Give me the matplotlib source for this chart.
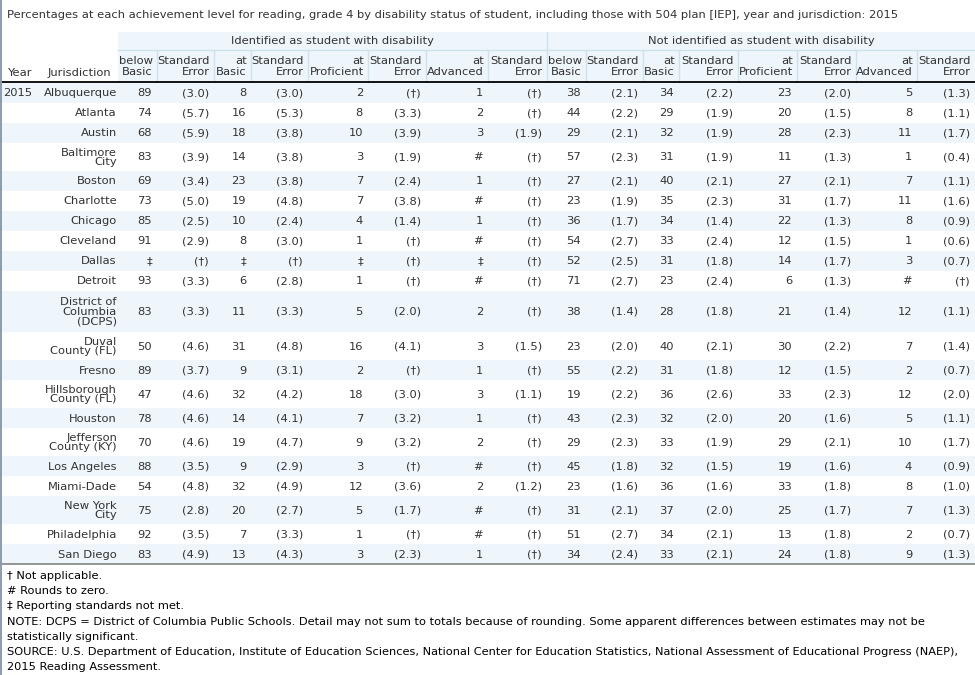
import matplotlib
matplotlib.use("Agg")
import matplotlib.pyplot as plt

plt.rcParams['font.family'] = ['DejaVu Sans']

title = ("Percentages at each achievement level for reading, grade 4 by disability status of student, "
         "including those with 504 plan [IEP], year and jurisdiction: 2015")
group_labels = ["Identified as student with disability", "Not identified as student with disability"]
col_headers = ["below\nBasic", "Standard\nError", "at\nBasic", "Standard\nError",
               "at\nProficient", "Standard\nError", "at\nAdvanced", "Standard\nError"]
year = "2015"
jurisdictions = ["Albuquerque", "Atlanta", "Austin", "Baltimore\nCity", "Boston", "Charlotte",
                 "Chicago", "Cleveland", "Dallas", "Detroit", "District of\nColumbia\n(DCPS)",
                 "Duval\nCounty (FL)", "Fresno", "Hillsborough\nCounty (FL)", "Houston",
                 "Jefferson\nCounty (KY)", "Los Angeles", "Miami-Dade", "New York\nCity",
                 "Philadelphia", "San Diego"]

# Identified as student with disability
below_basic_d = [89, 74, 68, 83, 69, 73, 85, 91, '‡', 93, 83, 50, 89, 47, 78, 70, 88, 54, 75, 92, 83]
se_below_d = [3.0, 5.7, 5.9, 3.9, 3.4, 5.0, 2.5, 2.9, '†', 3.3, 3.3, 4.6, 3.7, 4.6, 4.6, 4.6, 3.5, 4.8, 2.8, 3.5, 4.9]
at_basic_d = [8, 16, 18, 14, 23, 19, 10, 8, '‡', 6, 11, 31, 9, 32, 14, 19, 9, 32, 20, 7, 13]
se_basic_d = [3.0, 5.3, 3.8, 3.8, 3.8, 4.8, 2.4, 3.0, '†', 2.8, 3.3, 4.8, 3.1, 4.2, 4.1, 4.7, 2.9, 4.9, 2.7, 3.3, 4.3]
at_prof_d = [2, 8, 10, 3, 7, 7, 4, 1, '‡', 1, 5, 16, 2, 18, 7, 9, 3, 12, 5, 1, 3]
se_prof_d = ['†', 3.3, 3.9, 1.9, 2.4, 3.8, 1.4, '†', '†', '†', 2.0, 4.1, '†', 3.0, 3.2, 3.2, '†', 3.6, 1.7, '†', 2.3]
at_adv_d = [1, 2, 3, '#', 1, '#', 1, '#', '‡', '#', 2, 3, 1, 3, 1, 2, '#', 2, '#', '#', 1]
se_adv_d = ['†', '†', 1.9, '†', '†', '†', '†', '†', '†', '†', '†', 1.5, '†', 1.1, '†', '†', '†', 1.2, '†', '†', '†']

# Not identified as student with disability
below_basic_n = [38, 44, 29, 57, 27, 23, 36, 54, 52, 71, 38, 23, 55, 19, 43, 29, 45, 23, 31, 51, 34]
se_below_n = [2.1, 2.2, 2.1, 2.3, 2.1, 1.9, 1.7, 2.7, 2.5, 2.7, 1.4, 2.0, 2.2, 2.2, 2.3, 2.3, 1.8, 1.6, 2.1, 2.7, 2.4]
at_basic_n = [34, 29, 32, 31, 40, 35, 34, 33, 31, 23, 28, 40, 31, 36, 32, 33, 32, 36, 37, 34, 33]
se_basic_n = [2.2, 1.9, 1.9, 1.9, 2.1, 2.3, 1.4, 2.4, 1.8, 2.4, 1.8, 2.1, 1.8, 2.6, 2.0, 1.9, 1.5, 1.6, 2.0, 2.1, 2.1]
at_prof_n = [23, 20, 28, 11, 27, 31, 22, 12, 14, 6, 21, 30, 12, 33, 20, 29, 19, 33, 25, 13, 24]
se_prof_n = [2.0, 1.5, 2.3, 1.3, 2.1, 1.7, 1.3, 1.5, 1.7, 1.3, 1.4, 2.2, 1.5, 2.3, 1.6, 2.1, 1.6, 1.8, 1.7, 1.8, 1.8]
at_adv_n = [5, 8, 11, 1, 7, 11, 8, 1, 3, '#', 12, 7, 2, 12, 5, 10, 4, 8, 7, 2, 9]
se_adv_n = [1.3, 1.1, 1.7, 0.4, 1.1, 1.6, 0.9, 0.6, 0.7, '†', 1.1, 1.4, 0.7, 2.0, 1.1, 1.7, 0.9, 1.0, 1.3, 0.7, 1.3]

footnotes = ["† Not applicable.",
             "# Rounds to zero.",
             "‡ Reporting standards not met.",
             "NOTE: DCPS = District of Columbia Public Schools. Detail may not sum to totals because of rounding. "
             "Some apparent differences between estimates may not be",
             "statistically significant.",
             "SOURCE: U.S. Department of Education, Institute of Education Sciences, National Center for Education "
             "Statistics, National Assessment of Educational Progress (NAEP),",
             "2015 Reading Assessment."]

columns = [below_basic_d, se_below_d, at_basic_d, se_basic_d, at_prof_d, se_prof_d, at_adv_d, se_adv_d,
           below_basic_n, se_below_n, at_basic_n, se_basic_n, at_prof_n, se_prof_n, at_adv_n, se_adv_n]


def fmt(v, is_se):
    if isinstance(v, str):
        return "(" + v + ")" if is_se else v
    return "({:.1f})".format(v) if is_se else str(v)


# ---- layout (pixels) ----
W, H = 975, 675
col_edges = [118, 157, 214, 251, 308, 368, 426, 488, 547, 586, 643, 679, 738, 797, 856, 917, 975]
BAND = '#eef6fc'
SEP = '#cfe2ec'
TXT = '#333333'
FS = 8.25
FS_FOOT = 8.2

fig = plt.figure(figsize=(W / 100, H / 100), dpi=100)
ax = fig.add_axes([0, 0, 1, 1])
ax.set_xlim(0, W)
ax.set_ylim(H, 0)
ax.axis('off')

ax.text(7, 15, title, fontsize=FS, color=TXT, va='center', ha='left')

# header backgrounds
hdr1_top, hdr1_bot, hdr2_bot = 32, 50, 82
ax.add_patch(plt.Rectangle((col_edges[0], hdr1_top), W - col_edges[0], hdr2_bot - hdr1_top,
                           facecolor=BAND, edgecolor='none'))
ax.plot([col_edges[0], W], [hdr1_bot, hdr1_bot], color=SEP, lw=1)
ax.plot([col_edges[8], col_edges[8]], [hdr1_top, hdr1_bot], color=SEP, lw=1)
for e in col_edges[1:-1]:
    ax.plot([e, e], [hdr1_bot, hdr2_bot], color=SEP, lw=1)

for g, lab in enumerate(group_labels):
    x0, x1 = col_edges[g * 8], col_edges[g * 8 + 8]
    ax.text((x0 + x1) / 2, 41.5, lab, fontsize=FS, color=TXT, ha='center', va='center')

for i in range(16):
    ax.text(col_edges[i + 1] - 4, 66.5, col_headers[i % 8], fontsize=FS, color=TXT,
            ha='right', va='center', multialignment='right', linespacing=1.12)
ax.text(20, 73, "Year", fontsize=FS, color=TXT, ha='center', va='center')
ax.text(79, 73, "Jurisdiction", fontsize=FS, color=TXT, ha='center', va='center')

# data rows
y = hdr2_bot + 1
for r, name in enumerate(jurisdictions):
    nlines = name.count('\n') + 1
    h = max(20, 13 * nlines + 2)
    if r % 2 == 0:
        ax.add_patch(plt.Rectangle((0, y), W, h, facecolor=BAND, edgecolor='none'))
    yc = y + h / 2 + 0.5
    if r == 0:
        ax.text(3, yc, year, fontsize=FS, color=TXT, ha='left', va='center')
    ax.text(117, yc, name, fontsize=FS, color=TXT, ha='right', va='center',
            multialignment='right', linespacing=0.98)
    for c in range(16):
        ax.text(col_edges[c + 1] - 5, yc, fmt(columns[c][r], c % 2 == 1), fontsize=FS, color=TXT,
                ha='right', va='center')
    y += h

ax.plot([0, W], [hdr2_bot, hdr2_bot], color='black', lw=1.3)
ax.plot([0, W], [y, y], color='#8c8c8c', lw=1.3)
ax.plot([0.7, 0.7], [0, H], color='#8a9bb0', lw=1.4)

fy = y + 12
for line in footnotes:
    ax.text(7, fy, line, fontsize=FS_FOOT, color='black', ha='left', va='center')
    fy += 15.2

fig.savefig('out.png', dpi=100)
